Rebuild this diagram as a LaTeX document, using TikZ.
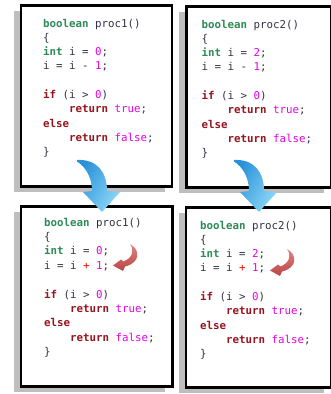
\documentclass[tikz,border=0pt]{standalone}
\usepackage{fontspec}
\setmonofont{DejaVu Sans Mono}
\definecolor{kwgreen}{RGB}{46,139,87}
\definecolor{kwred}{RGB}{150,20,30}
\definecolor{lit}{RGB}{230,0,230}
\definecolor{plain}{RGB}{50,50,70}
\definecolor{shadowgray}{RGB}{190,190,190}
\definecolor{bluedark}{RGB}{40,145,215}
\definecolor{bluelight}{RGB}{140,215,248}
\definecolor{reddark}{RGB}{185,70,70}
\definecolor{redlight}{RGB}{225,130,130}
\newcommand{\kg}[1]{\textcolor{kwgreen}{\textbf{#1}}}
\newcommand{\kr}[1]{\textcolor{kwred}{\textbf{#1}}}
\newcommand{\lt}[1]{\textcolor{lit}{#1}}
\newcommand{\pl}[1]{\textcolor{red}{#1}}
\begin{document}
\begin{tikzpicture}[x=1pt,y=-1pt,
  codebox/.style={draw=black,line width=2.5pt,fill=white},
  shadowbox/.style={fill=shadowgray},
  code/.style={anchor=base west,inner sep=0pt,text=plain,font=\ttfamily\fontsize{10.8}{13}\selectfont},
  bluearrow/.style={left color=bluedark,right color=bluelight,shading angle=60},
  redarrow/.style={top color=redlight,bottom color=reddark}]
\useasboundingbox (0,0) rectangle (331,394);
% shadows
\fill[shadowbox] (13.5,11) rectangle (164.5,192);
\fill[shadowbox] (179,12) rectangle (324,193);
\fill[shadowbox] (13.5,212) rectangle (165,392);
\fill[shadowbox] (178.5,213) rectangle (324,393);
% boxes
\node[codebox,minimum width=151pt,minimum height=181pt,inner sep=0pt,anchor=north west] (box1) at (19.5,4) {};
\node[codebox,minimum width=145pt,minimum height=181pt,inner sep=0pt,anchor=north west] (box2) at (185,5) {};
\node[codebox,minimum width=151.5pt,minimum height=180pt,inner sep=0pt,anchor=north west] (box3) at (19.5,205) {};
\node[codebox,minimum width=145.5pt,minimum height=180pt,inner sep=0pt,anchor=north west] (box4) at (184.5,206) {};
% code 1
\begin{scope}[shift={(43,27)}]
\node[code] (a1) at (0,0) {\kg{boolean} proc1()};
\node[code] (a2) at (0,14.3) {\{};
\node[code] (a3) at (0,28.6) {\kg{int} i = \lt{0};};
\node[code] (a4) at (0,42.9) {i = i - \lt{1};};
\node[code] (a5) at (0,71.5) {\kr{if} (i > \lt{0})};
\node[code] (a6) at (0,85.8) {\kr{\ \ \ \ return} \lt{true};};
\node[code] (a7) at (0,100.1) {\kr{else}};
\node[code] (a8) at (0,114.4) {\kr{\ \ \ \ return} \lt{false};};
\node[code] (a9) at (0,128.7) {\}};
\end{scope}
% code 2
\begin{scope}[shift={(201.5,28)}]
\node[code] (b1) at (0,0) {\kg{boolean} proc2()};
\node[code] (b2) at (0,14.3) {\{};
\node[code] (b3) at (0,28.6) {\kg{int} i = \lt{2};};
\node[code] (b4) at (0,42.9) {i = i - \lt{1};};
\node[code] (b5) at (0,71.5) {\kr{if} (i > \lt{0})};
\node[code] (b6) at (0,85.8) {\kr{\ \ \ \ return} \lt{true};};
\node[code] (b7) at (0,100.1) {\kr{else}};
\node[code] (b8) at (0,114.4) {\kr{\ \ \ \ return} \lt{false};};
\node[code] (b9) at (0,128.7) {\}};
\end{scope}
% code 3
\begin{scope}[shift={(44,226)}]
\node[code] (c1) at (0,0) {\kg{boolean} proc1()};
\node[code] (c2) at (0,14.4) {\{};
\node[code] (c3) at (0,28.8) {\kg{int} i = \lt{0};};
\node[code] (c4) at (0,43.2) {i = i \pl{+} \lt{1};};
\node[code] (c5) at (0,72) {\kr{if} (i > \lt{0})};
\node[code] (c6) at (0,86.4) {\kr{\ \ \ \ return} \lt{true};};
\node[code] (c7) at (0,100.8) {\kr{else}};
\node[code] (c8) at (0,115.2) {\kr{\ \ \ \ return} \lt{false};};
\node[code] (c9) at (0,129.6) {\}};
\end{scope}
% code 4
\begin{scope}[shift={(200,229)}]
\node[code] (d1) at (0,0) {\kg{boolean} proc2()};
\node[code] (d2) at (0,14.3) {\{};
\node[code] (d3) at (0,28.6) {\kg{int} i = \lt{2};};
\node[code] (d4) at (0,42.9) {i = i \pl{+} \lt{1};};
\node[code] (d5) at (0,71.5) {\kr{if} (i > \lt{0})};
\node[code] (d6) at (0,85.8) {\kr{\ \ \ \ return} \lt{true};};
\node[code] (d7) at (0,100.1) {\kr{else}};
\node[code] (d8) at (0,114.4) {\kr{\ \ \ \ return} \lt{false};};
\node[code] (d9) at (0,128.7) {\}};
\end{scope}
% blue arrows
\foreach \dx in {0,157}{
\begin{scope}[shift={(\dx,0)}]
\shade[bluearrow] (77,160) .. controls (97,159) and (107,172) .. (107,191)
  -- (120,192) -- (102,212) -- (83,192) -- (92,191)
  .. controls (92,178) and (86,167) .. (77,161.5) -- cycle;
\end{scope}}
% red arrows
\foreach \dx/\dy in {0/0,157/5}{
\begin{scope}[shift={(\dx,\dy)}]
\shade[redarrow] (130,244) .. controls (141,250) and (140,263) .. (125,266.5)
  -- (123,271) -- (113,265.5) -- (121,259.5) -- (123.5,261.5)
  .. controls (132,258) and (135,251) .. (130,244) -- cycle;
\end{scope}}
\end{tikzpicture}
\end{document}
